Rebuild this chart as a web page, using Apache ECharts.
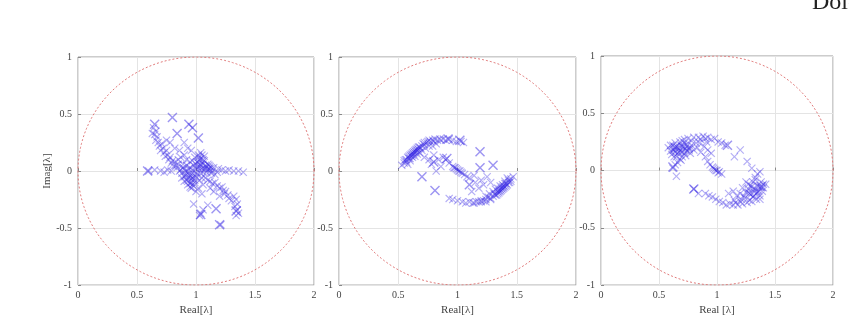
<!DOCTYPE html>
<html lang="en">
<head>
    <meta charset="UTF-8">
    <title>Eigenvalue scatter</title>
    <script src="https://cdn.jsdelivr.net/npm/echarts@6/dist/echarts.min.js"></script>
    <style>
        body { margin: 0; padding: 0; background: #fff; }
        #chart { width: 849px; height: 321px; }
    </style>
</head>
<body>
    <div id="chart"></div>
    <script>
        // tick labels
        var xTicks = ['0', '0.5', '1', '1.5', '2'];
        var yTicks = ['-1', '-0.5', '0', '0.5', '1'];

        // panel 1 eigenvalues [real, imag]
        var panel1Small = [
            [0.64,0.38],[0.66,0.35],[0.65,0.32],[0.63,0.33],[0.67,0.30],[0.66,0.27],[0.68,0.25],[0.69,0.22],
            [0.71,0.24],[0.72,0.20],[0.70,0.18],[0.73,0.16],[0.75,0.18],[0.74,0.13],[0.76,0.14],[0.78,0.12],
            [0.77,0.10],[0.80,0.09],[0.79,0.07],[0.82,0.08],[0.83,0.05],[0.81,0.04],[0.85,0.06],[0.84,0.03],
            [0.60,0.00],[0.65,0.01],[0.70,0.00],[0.73,-0.01],[0.76,0.01],[0.79,0.00],[1.25,0.00],[1.28,0.01],
            [1.32,0.00],[1.36,0.00],[1.40,-0.01],[1.22,0.01],
            [0.86,0.00],[0.88,-0.02],[0.90,0.02],[0.91,-0.04],[0.93,0.00],[0.94,-0.06],[0.92,-0.08],[0.95,0.03],
            [0.97,-0.02],[0.96,-0.10],[0.98,0.05],[1.00,0.02],[1.00,-0.05],[1.01,0.08],[1.02,0.12],[1.03,0.04],
            [1.04,-0.02],[1.05,0.07],[1.06,0.10],[1.07,0.02],[1.08,0.05],[1.09,-0.01],[1.10,0.06],[1.11,0.02],
            [1.12,0.04],[1.13,-0.02],[1.14,0.00],[1.15,0.03],[1.16,-0.03],[1.18,-0.01],[1.19,0.02],[0.88,-0.06],
            [0.90,-0.09],[0.93,-0.12],[0.95,-0.14],[0.97,-0.12],[0.99,-0.10],[1.02,0.14],[1.04,0.16],[0.99,0.12],
            [0.97,0.09],[1.05,-0.06],[1.03,-0.08],[0.85,0.10],[0.87,0.12],[0.90,0.14],[0.92,0.10],[0.95,0.08],
            [0.90,0.25],[0.93,0.20],[0.96,0.18],[0.86,0.18],[0.82,0.20],[0.78,0.25],[0.75,0.27],
            [1.08,-0.06],[1.10,-0.08],[1.12,-0.09],[1.14,-0.11],[1.16,-0.10],[1.18,-0.13],[1.20,-0.15],[1.22,-0.14],
            [1.23,-0.17],[1.25,-0.18],[1.27,-0.21],[1.28,-0.24],[1.30,-0.26],[1.32,-0.22],[1.34,-0.25],[1.35,-0.29],
            [1.33,-0.31],[1.35,-0.34],[1.36,-0.37],[1.34,-0.39],[1.24,-0.20],[1.20,-0.22],[1.15,-0.18],[1.12,-0.15],
            [1.06,-0.12],[1.02,-0.15],[1.00,-0.18],[1.05,-0.20],
            [0.98,-0.29],[1.04,-0.37],[1.06,-0.34],[1.03,-0.39],[1.21,-0.47],[1.10,-0.30]
        ];
        var panel1Dense = [
            [0.87,0.01],[0.89,0.03],[0.91,0.00],[0.92,-0.03],[0.94,0.02],[0.95,-0.04],[0.96,-0.07],[0.97,0.01],
            [0.98,-0.05],[0.99,-0.08],[1.00,-0.01],[1.01,0.04],[1.02,0.07],[1.03,0.10],[1.04,0.05],[1.05,0.02],
            [1.06,0.06],[1.07,0.09],[1.08,0.02],[1.09,0.04],[1.10,0.01],[1.11,0.05],[1.12,0.00],[1.13,0.03],
            [0.93,-0.09],[0.95,-0.11],[0.97,-0.06],[0.94,-0.03],[0.90,-0.05],[0.89,0.06],[0.92,0.05],[1.00,0.06],
            [1.03,0.01],[1.06,-0.01],[1.01,-0.03],[0.98,-0.13],[0.96,-0.15],[1.04,0.11],[1.07,0.13],[1.05,0.14]
        ];
        var panel1Large = [
            [0.80,0.47],[0.94,0.41],[0.97,0.38],[0.84,0.33],[1.02,0.29],[0.65,0.41],[1.17,-0.33],
            [1.04,-0.38],[0.59,0.00],[1.34,-0.35],[1.20,-0.47]
        ];

        // panel 2 eigenvalues
        var panel2Small = [
            [0.53,0.05],[0.55,0.07],[0.56,0.10],[0.57,0.08],[0.58,0.12],[0.59,0.11],[0.60,0.14],[0.61,0.13],
            [0.62,0.16],[0.63,0.15],[0.64,0.18],[0.65,0.17],[0.66,0.20],[0.67,0.19],[0.68,0.21],[0.70,0.22],
            [0.71,0.24],[0.72,0.23],[0.74,0.25],[0.75,0.26],[0.77,0.26],[0.79,0.27],[0.81,0.28],[0.83,0.27],
            [0.85,0.28],[0.88,0.28],[0.90,0.27],[0.93,0.28],[0.96,0.27],[0.99,0.26],[1.03,0.26],[1.05,0.25],
            [0.58,0.06],[0.60,0.09],[0.62,0.12],[0.64,0.13],[0.66,0.15],[0.68,0.16],[0.70,0.18],[0.73,0.20],
            [0.76,0.22],[0.79,0.22],[0.82,0.24],
            [0.72,0.12],[0.76,0.10],[0.80,0.14],[0.78,0.06],[0.84,0.10],[0.86,0.04],[0.88,0.12],[0.82,0.00],
            [0.90,0.10],[0.93,0.07],[0.96,0.04],[0.98,0.03],[1.00,0.01],[1.02,0.00],[1.04,-0.02],[1.06,-0.03],
            [1.08,-0.05],[1.10,-0.06],
            [1.47,-0.05],[1.45,-0.07],[1.44,-0.10],[1.43,-0.08],[1.42,-0.12],[1.41,-0.11],[1.40,-0.14],[1.39,-0.13],
            [1.38,-0.16],[1.37,-0.15],[1.36,-0.18],[1.35,-0.17],[1.34,-0.20],[1.32,-0.21],[1.30,-0.22],[1.28,-0.24],
            [1.26,-0.23],[1.24,-0.25],[1.22,-0.26],[1.20,-0.26],[1.18,-0.27],[1.16,-0.27],[1.13,-0.28],[1.10,-0.27],
            [1.07,-0.28],[1.04,-0.27],[1.00,-0.26],[0.96,-0.25],[0.93,-0.24],[1.42,-0.06],[1.40,-0.09],[1.38,-0.12],
            [1.36,-0.13],[1.34,-0.15],[1.32,-0.16],[1.30,-0.18],[1.27,-0.20],[1.24,-0.22],
            [1.15,-0.10],[1.18,-0.15],[1.20,-0.08],[1.22,-0.12],[1.14,-0.04],[1.25,-0.05],[1.28,-0.10],[1.12,-0.18]
        ];
        var panel2Dense = [
            [0.59,0.13],[0.61,0.15],[0.63,0.17],[0.64,0.16],[0.65,0.19],[0.66,0.18],[0.62,0.14],[0.60,0.11],
            [0.67,0.21],[0.69,0.20],[0.72,0.25],[0.76,0.27],[0.80,0.26],[0.86,0.27],[0.57,0.10],[0.55,0.09],
            [1.41,-0.13],[1.39,-0.15],[1.37,-0.17],[1.36,-0.16],[1.35,-0.19],[1.34,-0.18],[1.38,-0.14],[1.40,-0.11],
            [1.33,-0.21],[1.31,-0.20],[1.28,-0.25],[1.24,-0.27],[1.20,-0.27],[1.14,-0.28],[1.43,-0.10],[1.45,-0.09],
            [0.99,0.02],[1.01,0.00],[1.03,-0.01],[0.97,0.03]
        ];
        var panel2Large = [
            [1.19,0.17],[1.30,0.05],[0.70,-0.05],[0.81,-0.17],[1.19,0.03],[0.80,0.08],[1.10,-0.12],
            [0.92,0.28],[1.02,0.27],[0.91,0.11]
        ];

        // panel 3 eigenvalues
        var panel3Small = [
            [0.58,0.20],[0.60,0.17],[0.62,0.22],[0.61,0.14],[0.63,0.18],[0.64,0.24],[0.65,0.12],[0.66,0.20],
            [0.67,0.16],[0.68,0.25],[0.69,0.09],[0.70,0.21],[0.71,0.18],[0.72,0.27],[0.73,0.13],[0.74,0.23],
            [0.75,0.28],[0.76,0.20],[0.77,0.15],[0.78,0.26],[0.80,0.29],[0.82,0.24],[0.84,0.29],[0.86,0.27],
            [0.88,0.30],[0.90,0.28],[0.92,0.29],[0.95,0.27],[0.98,0.28],[1.01,0.25],[1.04,0.24],[1.07,0.22],
            [0.80,0.18],[0.83,0.20],[0.86,0.16],[0.89,0.21],[0.92,0.18],[0.95,0.15],
            [0.62,0.02],[0.64,0.05],[0.66,0.07],[0.68,0.10],[0.70,0.12],[0.72,0.15],[0.74,0.17],[0.76,0.19],
            [0.70,0.26],[0.72,0.24],[0.74,0.21],[0.76,0.18],
            [0.94,0.05],[0.96,0.03],[0.98,0.01],[1.00,0.00],[1.02,-0.01],[1.04,-0.03],[0.92,0.08],[0.90,0.12],
            [1.42,-0.12],[1.40,-0.15],[1.38,-0.10],[1.39,-0.18],[1.37,-0.22],[1.36,-0.14],[1.35,-0.19],[1.34,-0.25],
            [1.33,-0.08],[1.32,-0.22],[1.31,-0.16],[1.30,-0.27],[1.28,-0.20],[1.27,-0.12],[1.26,-0.28],[1.24,-0.24],
            [1.22,-0.29],[1.20,-0.27],[1.18,-0.30],[1.16,-0.28],[1.14,-0.30],[1.11,-0.29],[1.08,-0.30],[1.05,-0.28],
            [1.02,-0.27],[0.99,-0.25],[0.96,-0.23],[0.93,-0.22],[0.90,-0.20],[1.20,-0.20],[1.17,-0.22],[1.14,-0.18],
            [1.10,-0.20],[1.22,-0.15],[1.25,-0.10],
            [1.23,-0.22],[1.25,-0.19],[1.27,-0.16],[1.29,-0.13],[1.31,-0.10],[1.33,-0.06],[1.35,-0.03],[1.37,-0.01],
            [0.80,-0.16],[0.84,-0.20],[1.20,0.18],[1.26,0.08],[1.15,0.12],[0.65,-0.05],[1.30,0.02]
        ];
        var panel3Dense = [
            [0.62,0.18],[0.64,0.16],[0.65,0.21],[0.66,0.15],[0.67,0.19],[0.68,0.17],[0.69,0.22],[0.70,0.16],
            [0.71,0.21],[0.73,0.19],[0.63,0.12],[0.60,0.22],[0.78,0.22],[0.85,0.24],[0.91,0.25],
            [1.38,-0.15],[1.36,-0.18],[1.35,-0.13],[1.34,-0.20],[1.33,-0.16],[1.32,-0.19],[1.31,-0.23],[1.30,-0.14],
            [1.29,-0.21],[1.27,-0.19],[1.40,-0.12],[1.37,-0.25],[1.28,-0.26],[1.21,-0.25],[1.15,-0.26],
            [0.99,0.00],[1.01,-0.02],[0.97,0.02]
        ];
        var panel3Large = [
            [0.62,0.03],[0.80,-0.16],[1.09,0.22],[0.64,0.20],[1.38,-0.14]
        ];

        var xNames = ['Real[λ]', 'Real[λ]', 'Real [λ]'];

        // unit circle centred at (1, 0)
        var circle = [];
        for (var a = 0; a <= 360; a += 2) {
            var t = a * Math.PI / 180;
            circle.push([1 + Math.cos(t), Math.sin(t)]);
        }

        var crossSym = 'path://M0,1L1,0L5,4L9,0L10,1L6,5L10,9L9,10L5,6L1,10L0,9L4,5Z';
        var markColor = '#3b2be6';
        var font = 'Liberation Serif';

        var grids = [
            { left: 78, top: 57, width: 236, height: 238 },
            { left: 339, top: 57, width: 237, height: 238 },
            { left: 601, top: 56, width: 232, height: 234 }
        ];

        var xAxes = [], yAxes = [], series = [];
        var smalls = [panel1Small, panel2Small, panel3Small];
        var denses = [panel1Dense, panel2Dense, panel3Dense];
        var larges = [panel1Large, panel2Large, panel3Large];

        grids.forEach(function (g, i) {
            g.show = true;
            g.borderColor = '#9a9a9a';
            g.borderWidth = 1;
            xAxes.push({
                gridIndex: i, type: 'value', min: 0, max: 2, interval: 0.5,
                name: xNames[i], nameLocation: 'middle', nameGap: 18,
                nameTextStyle: { fontFamily: font, fontSize: 11, color: '#444' },
                axisLine: { show: false },
                axisTick: { inside: true, length: 3, lineStyle: { color: '#888' } },
                splitLine: { lineStyle: { color: '#e4e4e4' } },
                axisLabel: {
                    fontFamily: font, fontSize: 10, color: '#444', margin: 5,
                    formatter: function (v) { return xTicks[Math.round(v / 0.5)]; }
                }
            });
            yAxes.push({
                gridIndex: i, type: 'value', min: -1, max: 1, interval: 0.5,
                name: i === 0 ? 'Imag[λ]' : '', nameLocation: 'middle', nameGap: 24,
                nameTextStyle: { fontFamily: font, fontSize: 11, color: '#444' },
                axisLine: { show: false },
                axisTick: { inside: true, length: 3, lineStyle: { color: '#888' } },
                splitLine: { lineStyle: { color: '#e4e4e4' } },
                axisLabel: {
                    fontFamily: font, fontSize: 10, color: '#444', margin: 6,
                    formatter: function (v) { return yTicks[Math.round((v + 1) / 0.5)]; }
                }
            });
            series.push({
                type: 'line', xAxisIndex: i, yAxisIndex: i, data: circle,
                showSymbol: false, silent: true,
                lineStyle: { color: '#e07a7a', width: 1, type: [2, 2] }
            });
            series.push({
                type: 'scatter', xAxisIndex: i, yAxisIndex: i, data: smalls[i].concat(denses[i]),
                symbol: crossSym, symbolSize: 8,
                itemStyle: { color: markColor, opacity: 0.38 }
            });
            series.push({
                type: 'scatter', xAxisIndex: i, yAxisIndex: i, data: larges[i],
                symbol: crossSym, symbolSize: 10,
                itemStyle: { color: markColor, opacity: 0.5 }
            });
        });

        var chart = echarts.init(document.getElementById('chart'));
        chart.setOption({
            animation: false,
            backgroundColor: '#fff',
            grid: grids,
            xAxis: xAxes,
            yAxis: yAxes,
            series: series,
            graphic: [{
                type: 'text', left: 812, top: -9,
                style: { text: 'Dolo', font: '24px "Liberation Serif"', fill: '#222' }
            }]
        });
    </script>
</body>
</html>
